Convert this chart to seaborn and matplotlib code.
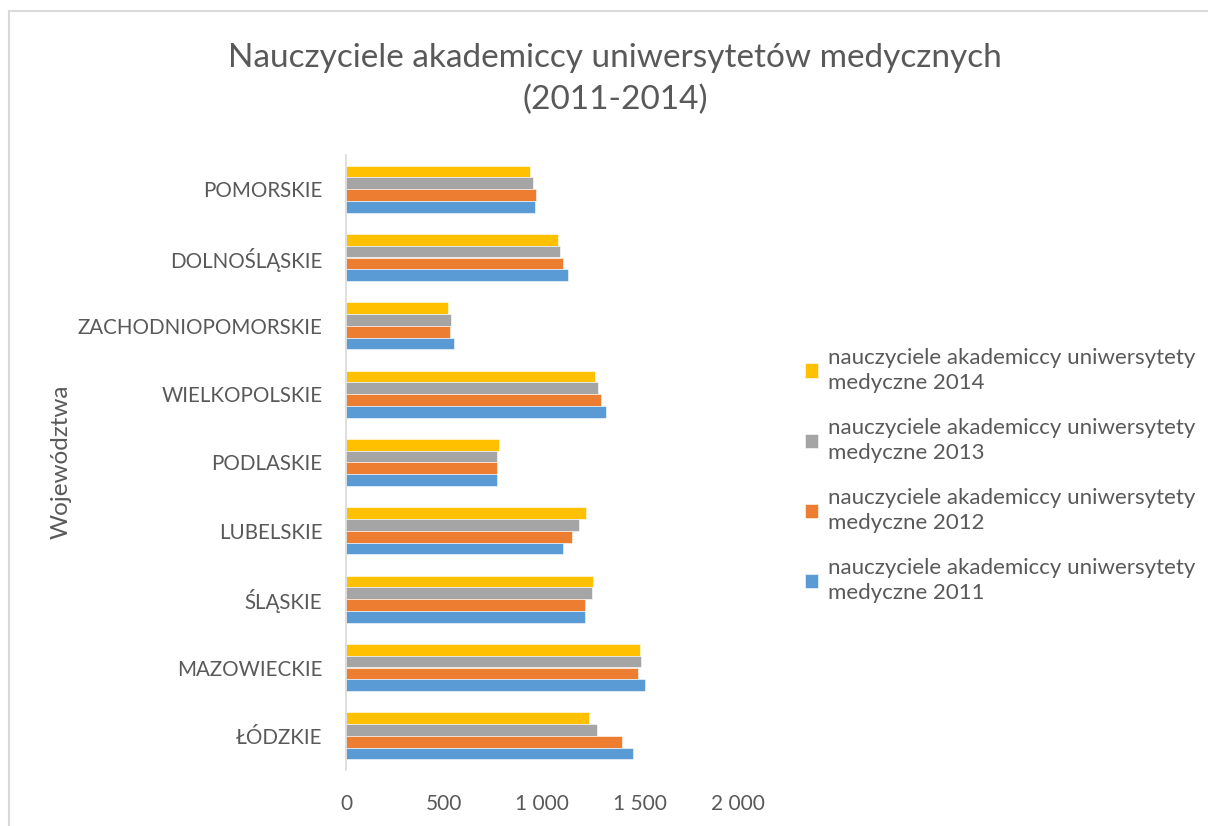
import matplotlib
matplotlib.use("Agg")
import matplotlib.pyplot as plt
import seaborn as sns
import pandas as pd
from matplotlib.patches import Rectangle
from matplotlib.ticker import FuncFormatter

categories = ["POMORSKIE", "DOLNOŚLĄSKIE", "ZACHODNIOPOMORSKIE", "WIELKOPOLSKIE",
              "PODLASKIE", "LUBELSKIE", "ŚLĄSKIE", "MAZOWIECKIE", "ŁÓDZKIE"]
series_names = ["nauczyciele akademiccy uniwersytety\nmedyczne 2014",
                "nauczyciele akademiccy uniwersytety\nmedyczne 2013",
                "nauczyciele akademiccy uniwersytety\nmedyczne 2012",
                "nauczyciele akademiccy uniwersytety\nmedyczne 2011"]
v2014 = [940, 1080, 520, 1272, 782, 1224, 1258, 1501, 1241]
v2013 = [954, 1090, 536, 1286, 768, 1187, 1253, 1503, 1279]
v2012 = [969, 1105, 532, 1302, 768, 1155, 1217, 1490, 1410]
v2011 = [962, 1134, 549, 1326, 768, 1109, 1219, 1523, 1466]
colors = ["#FFC000", "#A5A5A5", "#ED7D31", "#5B9BD5"]
xticks = [0, 500, 1000, 1500, 2000]

rows = []
for name, vals in zip(series_names, [v2014, v2013, v2012, v2011]):
    for c, v in zip(categories, vals):
        rows.append({"cat": c, "val": v, "series": name})
df = pd.DataFrame(rows)

sns.set_theme(style="white")
plt.rcParams['font.family'] = ['Lato', 'DejaVu Sans']
txt = "#595959"

fig = plt.figure(figsize=(12.08, 8.26), dpi=100)
ax = fig.add_axes([346/1208, 1-770/826, (738-346)/1208, (770-155)/826])

sns.barplot(data=df, y="cat", x="val", hue="series", order=categories,
            hue_order=series_names, palette=colors, orient="h", width=0.69,
            dodge=True, ax=ax, edgecolor="white", linewidth=0.4, saturation=1)

ax.set_xlim(0, 2000)
ax.set_ylim(len(categories) - 0.5, -0.5)
ax.set_xticks(xticks)
ax.xaxis.set_major_formatter(FuncFormatter(lambda v, p: f"{int(v):,}".replace(",", " ")))
ax.tick_params(axis="x", colors=txt, labelsize=15, length=0, pad=17)
ax.tick_params(axis="y", colors=txt, labelsize=14.8, length=0, pad=17)
for s in ["top", "right", "bottom"]:
    ax.spines[s].set_visible(False)
ax.spines["left"].set_color("#D9D9D9")
ax.spines["left"].set_linewidth(1.2)
ax.grid(False)
ax.set_xlabel("")
ax.set_ylabel("")
fig.text(61/1208, 1-462/826, "Województwa", rotation=90, ha="center", va="center",
         fontsize=17.5, color=txt)

fig.text(615/1208, 1-79/826, "Nauczyciele akademiccy uniwersytetów medycznych\n(2011-2014)",
         ha="center", va="center", fontsize=24, color=txt, linespacing=1.45)

handles, labels = ax.get_legend_handles_labels()
leg = ax.legend(handles, labels, loc="upper left", bbox_to_anchor=(789/1208, 1-332/826),
                bbox_transform=fig.transFigure, frameon=False, fontsize=16,
                labelcolor=txt, handlelength=0.6, handleheight=0.6, handletextpad=0.45,
                labelspacing=1.1, borderpad=0.2)
for t in leg.get_texts():
    t.set_linespacing(1.35)

fig.patches.append(Rectangle((9/1208, -0.1), 1.2, 1 - 11/826 + 0.1, transform=fig.transFigure,
                             fill=False, edgecolor="#D9D9D9", linewidth=1.5))

fig.savefig("out.png", dpi=100)
